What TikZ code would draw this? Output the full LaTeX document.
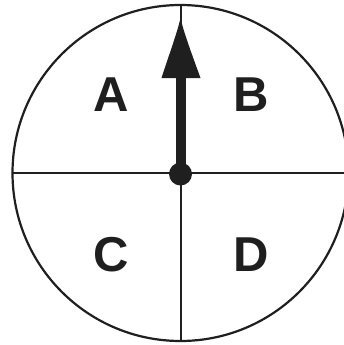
\documentclass[tikz,border=0pt]{standalone}
\usepackage{fontspec}
\setmainfont{Liberation Sans}
\begin{document}
\begin{tikzpicture}[x=1pt,y=-1pt,
  ink/.style={draw=black!88},
  rim/.style={ink,line width=2.2pt},
  divider/.style={ink,line width=2pt},
  letter/.style={font=\fontsize{49}{49}\selectfont\bfseries,text=black!88,inner sep=0pt}]
\useasboundingbox (0,0) rectangle (343,345);
\coordinate (c) at (180.5,173);
\coordinate (top) at (180.5,5);
\coordinate (bot) at (180.5,341);
\coordinate (lft) at (12.5,173);
\coordinate (rgt) at (348.5,173);
\coordinate (tip) at (180.5,18);
\coordinate (base) at (180.5,78);
\draw[rim] (c) circle[radius=168];
\draw[divider] (lft) -- (rgt);
\draw[divider] (top) -- (bot);
% arrow
\draw[ink,line width=10pt] (c) -- ([yshift=2]base);
\fill[black!88] (161.5,78) .. controls (170,52) and (178,30) .. (tip)
  .. controls (183,30) and (191,52) .. (200.5,78) -- cycle;
\fill[black!88] (180.5,174) circle[radius=11.5];
\node[letter] (A) at (111.5,95) {A};
\node[letter] (B) at (251.5,95) {B};
\node[letter] (C) at (111.5,255) {C};
\node[letter] (D) at (251.5,255) {D};
\end{tikzpicture}
\end{document}
